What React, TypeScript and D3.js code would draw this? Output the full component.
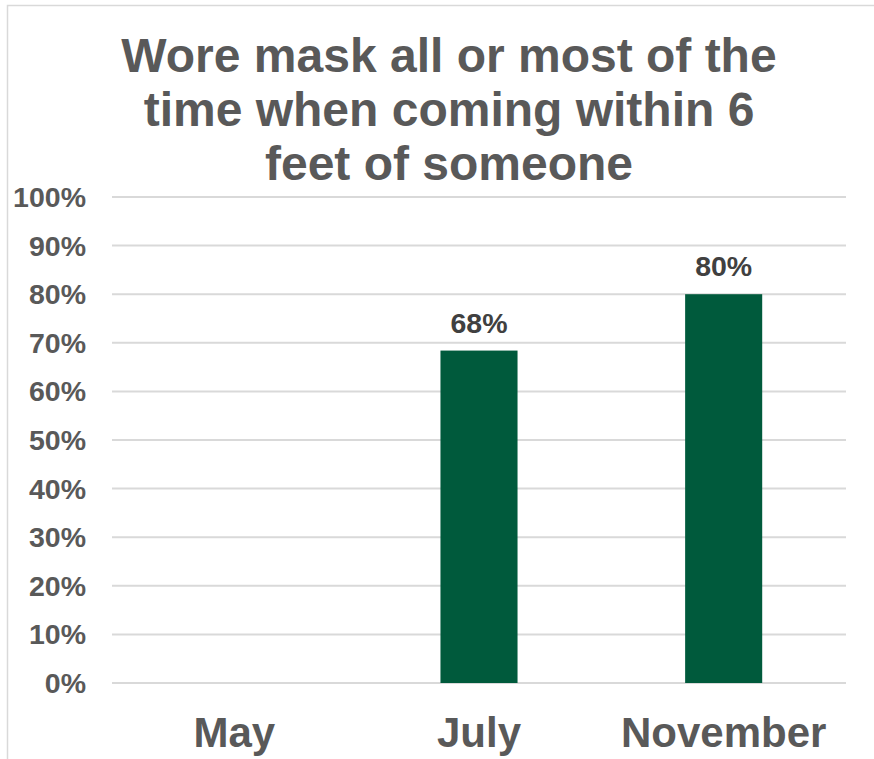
import React from "react";
import * as d3 from "d3";

const categories = ["May", "July", "November"];
const values: (number | null)[] = [null, 0.684, 0.80];
const tickValues = [0, 0.1, 0.2, 0.3, 0.4, 0.5, 0.6, 0.7, 0.8, 0.9, 1.0];
const titleLines = ["Wore mask all or most of the", "time when coming within 6", "feet of someone"];

export default function App() {
  const W = 874, H = 759;
  const left = 112, right = 846, top = 197, bottom = 683;
  const x = d3.scaleBand<string>().domain(categories).range([left, right]);
  const y = d3.scaleLinear().domain([0, 1]).range([bottom, top]);
  const barW = x.step() * 0.315;
  const font = "Arial, 'Liberation Sans', sans-serif";
  const fmt = d3.format(".0%");
  return (
    <svg width={W} height={H} style={{ position: "absolute", left: 0, top: 0 }} fontFamily={font}>
      <rect x={0} y={0} width={W} height={H} fill="#fff" />
      <rect x={7.5} y={5.5} width={W + 20} height={H + 20} fill="none" stroke="#d9d9d9" strokeWidth={1.5} />
      {titleLines.map((t, i) => (
        <text key={i} x={449} y={72 + i * 54} textAnchor="middle" fontSize={48} fontWeight="bold" fill="#595959">{t}</text>
      ))}
      {tickValues.map((v) => (
        <g key={v}>
          <line x1={left} x2={right} y1={y(v)} y2={y(v)} stroke="#d9d9d9" strokeWidth={2} />
          <text x={86} y={y(v) + 10} textAnchor="end" fontSize={28.5} fontWeight="bold" fill="#595959">{fmt(v)}</text>
        </g>
      ))}
      {categories.map((c, i) => {
        const v = values[i];
        const cx = (x(c) as number) + x.bandwidth() / 2;
        return (
          <g key={c}>
            {v != null && (
              <>
                <rect x={cx - barW / 2} y={y(v)} width={barW} height={bottom - y(v)} fill="#005a3c" />
                <text x={cx} y={y(v) - 18} textAnchor="middle" fontSize={28.5} fontWeight="bold" fill="#404040">{fmt(v)}</text>
              </>
            )}
            <text x={cx} y={747} textAnchor="middle" fontSize={42} fontWeight="bold" fill="#595959">{c}</text>
          </g>
        );
      })}
    </svg>
  );
}
